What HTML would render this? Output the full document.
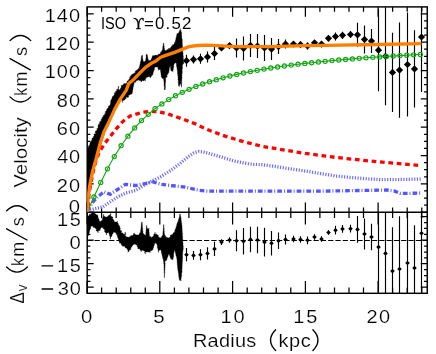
<!DOCTYPE html>
<html><head><meta charset="utf-8"><title>Rotation curve</title>
<style>html,body{margin:0;padding:0;background:#fff}body{width:436px;height:354px;overflow:hidden;font-family:"Liberation Sans",sans-serif}</style>
</head><body>
<svg width="436" height="354" viewBox="0 0 436 354" style="display:block">
<rect width="436" height="354" fill="#fff"/>
<defs><clipPath id="cu"><rect x="87.2" y="6.9" width="340.05" height="205.29999999999998"/></clipPath><clipPath id="cl"><rect x="87.2" y="212.2" width="340.05" height="81.10000000000002"/></clipPath></defs>
<rect x="87.2" y="6.9" width="340.05" height="286.40000000000003" fill="none" stroke="#000" stroke-width="1.45"/>
<line x1="87.2" x2="427.25" y1="212.2" y2="212.2" stroke="#000" stroke-width="1.45"/>
<path d="M87.1,6.9v9.8M87.1,212.2v-9.8M87.1,212.2v12.3M87.1,293.3v-12.3M101.6,6.9v4.8M101.6,212.2v-4.8M101.6,212.2v5.8M101.6,293.3v-5.8M116.2,6.9v4.8M116.2,212.2v-4.8M116.2,212.2v5.8M116.2,293.3v-5.8M130.8,6.9v4.8M130.8,212.2v-4.8M130.8,212.2v5.8M130.8,293.3v-5.8M145.3,6.9v4.8M145.3,212.2v-4.8M145.3,212.2v5.8M145.3,293.3v-5.8M159.8,6.9v9.8M159.8,212.2v-9.8M159.8,212.2v12.3M159.8,293.3v-12.3M174.4,6.9v4.8M174.4,212.2v-4.8M174.4,212.2v5.8M174.4,293.3v-5.8M188.9,6.9v4.8M188.9,212.2v-4.8M188.9,212.2v5.8M188.9,293.3v-5.8M203.5,6.9v4.8M203.5,212.2v-4.8M203.5,212.2v5.8M203.5,293.3v-5.8M218.1,6.9v4.8M218.1,212.2v-4.8M218.1,212.2v5.8M218.1,293.3v-5.8M232.6,6.9v9.8M232.6,212.2v-9.8M232.6,212.2v12.3M232.6,293.3v-12.3M247.2,6.9v4.8M247.2,212.2v-4.8M247.2,212.2v5.8M247.2,293.3v-5.8M261.7,6.9v4.8M261.7,212.2v-4.8M261.7,212.2v5.8M261.7,293.3v-5.8M276.2,6.9v4.8M276.2,212.2v-4.8M276.2,212.2v5.8M276.2,293.3v-5.8M290.8,6.9v4.8M290.8,212.2v-4.8M290.8,212.2v5.8M290.8,293.3v-5.8M305.4,6.9v9.8M305.4,212.2v-9.8M305.4,212.2v12.3M305.4,293.3v-12.3M319.9,6.9v4.8M319.9,212.2v-4.8M319.9,212.2v5.8M319.9,293.3v-5.8M334.5,6.9v4.8M334.5,212.2v-4.8M334.5,212.2v5.8M334.5,293.3v-5.8M349.0,6.9v4.8M349.0,212.2v-4.8M349.0,212.2v5.8M349.0,293.3v-5.8M363.5,6.9v4.8M363.5,212.2v-4.8M363.5,212.2v5.8M363.5,293.3v-5.8M378.1,6.9v9.8M378.1,212.2v-9.8M378.1,212.2v12.3M378.1,293.3v-12.3M392.6,6.9v4.8M392.6,212.2v-4.8M392.6,212.2v5.8M392.6,293.3v-5.8M407.2,6.9v4.8M407.2,212.2v-4.8M407.2,212.2v5.8M407.2,293.3v-5.8M421.8,6.9v4.8M421.8,212.2v-4.8M421.8,212.2v5.8M421.8,293.3v-5.8M87.2,212.2h6.5M427.25,212.2h-6.5M87.2,205.1h3.2M427.25,205.1h-3.2M87.2,198.0h3.2M427.25,198.0h-3.2M87.2,190.9h3.2M427.25,190.9h-3.2M87.2,183.9h6.5M427.25,183.9h-6.5M87.2,176.8h3.2M427.25,176.8h-3.2M87.2,169.7h3.2M427.25,169.7h-3.2M87.2,162.6h3.2M427.25,162.6h-3.2M87.2,155.5h6.5M427.25,155.5h-6.5M87.2,148.4h3.2M427.25,148.4h-3.2M87.2,141.3h3.2M427.25,141.3h-3.2M87.2,134.3h3.2M427.25,134.3h-3.2M87.2,127.2h6.5M427.25,127.2h-6.5M87.2,120.1h3.2M427.25,120.1h-3.2M87.2,113.0h3.2M427.25,113.0h-3.2M87.2,105.9h3.2M427.25,105.9h-3.2M87.2,98.8h6.5M427.25,98.8h-6.5M87.2,91.8h3.2M427.25,91.8h-3.2M87.2,84.7h3.2M427.25,84.7h-3.2M87.2,77.6h3.2M427.25,77.6h-3.2M87.2,70.5h6.5M427.25,70.5h-6.5M87.2,63.4h3.2M427.25,63.4h-3.2M87.2,56.3h3.2M427.25,56.3h-3.2M87.2,49.2h3.2M427.25,49.2h-3.2M87.2,42.2h6.5M427.25,42.2h-6.5M87.2,35.1h3.2M427.25,35.1h-3.2M87.2,28.0h3.2M427.25,28.0h-3.2M87.2,20.9h3.2M427.25,20.9h-3.2M87.2,13.8h6.5M427.25,13.8h-6.5M87.2,287.2h6.5M427.25,287.2h-6.5M87.2,281.3h3.2M427.25,281.3h-3.2M87.2,275.5h3.2M427.25,275.5h-3.2M87.2,269.6h3.2M427.25,269.6h-3.2M87.2,263.7h6.5M427.25,263.7h-6.5M87.2,257.8h3.2M427.25,257.8h-3.2M87.2,252.0h3.2M427.25,252.0h-3.2M87.2,246.1h3.2M427.25,246.1h-3.2M87.2,240.2h6.5M427.25,240.2h-6.5M87.2,234.3h3.2M427.25,234.3h-3.2M87.2,228.4h3.2M427.25,228.4h-3.2M87.2,222.6h3.2M427.25,222.6h-3.2M87.2,216.7h6.5M427.25,216.7h-6.5" stroke="#000" stroke-width="1.25" fill="none"/>
<g clip-path="url(#cu)">
<polygon points="86.6,212.0 86.7,211.3 86.8,210.6 86.9,209.9 86.8,209.2 86.8,208.5 86.8,207.8 86.7,207.1 86.8,206.4 86.8,205.6 86.9,204.9 86.6,204.2 86.7,203.5 86.6,202.8 86.9,202.1 86.8,201.4 86.6,200.7 86.9,200.0 86.9,199.3 86.8,198.6 86.8,197.9 86.7,197.2 86.6,196.5 86.8,195.8 86.6,195.1 86.7,194.4 86.7,193.6 86.6,192.9 86.8,192.2 86.7,191.5 86.9,190.8 86.8,190.1 86.8,189.4 86.8,188.7 86.8,188.0 86.7,187.3 86.7,186.6 86.9,185.9 86.9,185.2 86.9,184.5 86.8,183.8 86.7,183.1 86.7,182.4 86.7,181.6 86.6,180.9 86.8,180.2 86.7,179.5 86.9,178.8 86.7,178.1 86.9,177.4 86.9,176.7 86.6,176.0 86.7,175.3 86.9,174.6 86.8,173.9 86.9,173.2 86.7,172.5 86.6,171.8 86.8,171.1 86.9,170.4 86.7,169.6 86.6,168.9 86.7,168.2 86.9,167.5 86.8,166.8 86.6,166.1 86.7,165.4 86.6,164.7 86.6,164.0 86.9,163.3 86.7,162.6 86.8,161.9 86.7,161.2 86.7,160.5 86.8,159.8 86.6,159.1 86.8,158.4 86.6,157.6 86.7,156.9 86.7,156.2 86.7,155.5 86.9,154.8 86.9,154.1 86.7,153.4 86.9,152.7 86.6,152.0 86.9,151.3 87.2,150.6 87.6,149.9 87.8,149.2 87.9,148.4 88.4,147.8 88.4,147.0 88.6,146.2 88.8,145.5 90.0,145.2 89.8,144.3 90.0,143.6 90.1,142.8 90.4,142.1 91.2,141.7 91.1,140.9 91.8,140.4 91.9,139.6 92.3,138.9 92.0,138.0 93.4,137.9 93.2,136.9 93.7,136.3 94.3,135.8 93.9,134.8 94.2,134.1 95.4,133.9 95.6,133.1 95.0,132.0 95.6,131.5 95.8,130.8 96.8,130.4 97.3,129.8 96.7,128.7 97.9,128.5 98.1,127.8 98.1,126.9 98.2,126.2 98.1,125.3 98.3,124.6 99.7,124.4 99.2,123.4 100.0,122.9 99.5,121.9 100.2,121.4 101.2,121.1 101.3,120.3 101.3,119.5 101.5,118.8 102.5,118.5 102.2,117.4 102.7,116.8 103.5,116.4 103.2,115.4 104.5,115.3 104.6,114.5 104.6,113.7 105.7,113.4 105.3,112.3 105.4,111.6 106.1,111.1 106.7,110.6 106.6,109.7 106.9,109.0 107.4,108.4 108.0,107.9 108.5,107.3 108.3,106.4 108.9,105.9 109.9,105.5 110.3,104.9 110.2,104.1 110.6,103.4 110.8,102.7 110.4,101.7 110.7,101.1 110.9,100.4 111.2,99.7 111.7,99.2 111.9,98.5 112.2,97.9 112.2,97.1 112.6,96.4 113.7,96.0 113.9,95.2 114.5,94.7 114.4,93.7 114.4,92.8 115.9,92.8 115.4,91.5 116.3,91.1 117.0,90.6 116.6,89.4 118.0,89.3 118.1,88.6 118.4,87.9 118.9,87.3 118.3,86.2 118.1,87.0 118.4,87.7 118.4,88.5 118.5,89.3 118.9,90.0 120.2,89.8 120.0,88.9 120.7,88.5 121.1,87.9 121.1,87.1 121.4,86.5 121.0,85.5 121.9,85.5 122.6,85.3 123.2,85.0 123.5,84.0 124.0,83.5 125.1,83.7 126.0,83.7 126.5,83.1 127.0,82.5 127.0,81.3 127.8,80.9 128.6,80.5 128.8,79.8 129.1,79.0 129.9,78.7 129.5,77.5 130.6,77.3 130.2,76.2 131.3,76.0 131.0,74.9 132.0,74.9 132.4,74.1 133.3,74.1 133.8,73.4 134.4,73.0 135.3,72.8 135.1,71.4 135.8,71.1 136.1,70.4 136.9,70.2 137.7,70.0 137.8,69.1 138.3,68.6 139.4,68.7 139.1,67.4 139.5,66.7 139.6,65.9 140.0,65.1 140.0,64.3 140.3,63.5 140.3,62.7 140.5,62.0 140.7,61.3 140.9,60.7 141.1,60.0 141.2,59.3 141.1,58.6 141.3,57.9 141.4,57.2 141.4,56.5 141.5,55.8 142.6,55.2 142.5,55.9 142.5,56.6 142.5,57.4 142.6,58.1 142.6,58.8 142.9,59.5 143.0,60.2 143.0,60.9 143.2,61.6 144.1,61.7 144.8,61.5 145.5,61.0 145.7,60.3 145.8,59.6 145.9,58.9 145.9,58.2 146.1,57.5 146.2,56.8 146.1,56.0 146.1,55.3 146.1,54.6 147.2,54.6 147.4,55.3 147.3,56.1 147.7,56.8 147.7,57.6 147.9,58.4 148.1,59.1 148.4,59.8 148.9,61.0 149.9,60.2 150.7,60.4 151.0,59.8 151.4,59.1 151.5,58.4 152.0,57.9 152.1,57.1 152.3,56.5 152.5,55.8 153.4,55.6 154.4,56.0 155.0,55.0 155.9,55.3 156.7,55.3 157.4,55.2 158.2,55.1 158.6,53.9 160.0,54.3 160.3,53.5 160.4,52.5 161.2,52.2 161.4,51.4 161.8,50.7 162.3,50.2 162.6,49.5 162.7,48.7 162.7,48.0 162.8,47.2 162.9,46.5 163.1,45.8 163.2,45.0 163.3,44.3 163.2,43.5 163.9,43.0 163.7,43.7 163.9,44.5 163.9,45.2 163.9,45.9 164.3,46.6 164.1,47.4 164.2,48.1 164.5,48.8 164.5,49.5 164.7,50.2 165.7,50.6 166.5,50.6 166.9,49.7 167.7,49.6 168.5,49.6 168.7,48.3 170.0,48.5 170.6,48.2 170.7,47.2 171.4,46.8 171.5,45.9 172.5,45.9 172.4,44.7 173.7,44.7 174.0,44.0 174.5,43.4 174.4,42.4 175.6,42.3 175.1,41.0 175.6,40.4 175.8,39.7 175.8,39.0 176.0,38.3 176.1,37.6 176.4,37.0 176.6,36.3 176.6,35.6 176.7,34.9 177.0,34.2 177.0,33.5 178.1,33.5 178.9,33.1 178.8,31.8 179.7,31.4 179.5,30.5 180.7,30.3 180.2,29.2 180.4,28.5 180.3,29.3 180.7,30.0 180.9,30.8 181.0,31.6 181.4,32.3 181.6,33.0 181.6,33.7 181.6,34.4 181.6,35.1 181.6,35.8 181.7,36.5 181.7,37.2 181.9,37.9 181.9,38.6 182.2,39.3 182.3,40.0 182.3,40.7 182.2,41.4 182.3,42.1 182.2,42.9 182.3,43.6 182.4,44.3 182.3,45.0 182.5,45.7 182.6,46.4 182.6,47.2 182.5,47.9 182.5,48.6 182.8,49.3 182.9,50.0 182.7,50.7 182.7,51.5 182.9,52.2 182.9,52.9 183.1,53.6 183.0,54.3 183.1,55.0 183.1,55.7 183.4,56.4 183.1,57.2 183.3,57.9 183.4,58.6 183.3,59.3 183.5,60.0 183.5,60.7 183.5,61.5 183.8,62.2 183.7,62.9 183.9,63.6 182.9,63.8 182.7,64.7 182.3,65.4 182.3,66.2 182.5,66.9 182.4,67.7 182.4,68.4 182.3,69.1 182.1,69.9 182.1,70.6 182.2,71.4 182.2,72.1 182.2,72.9 182.0,73.6 181.8,74.3 182.1,75.1 182.0,75.8 181.8,76.5 182.0,77.3 181.9,78.0 181.9,78.7 181.7,79.4 181.8,80.1 181.7,80.8 181.6,81.6 181.8,82.3 181.5,83.0 181.7,83.7 181.6,84.4 181.6,85.1 181.6,85.9 181.5,86.6 181.6,87.3 181.5,86.5 181.2,85.7 181.0,84.9 180.8,84.1 180.4,83.3 180.1,84.0 179.9,84.6 179.5,85.3 179.3,86.0 179.3,86.7 179.3,85.7 178.3,85.6 178.5,84.9 178.4,84.2 178.4,83.4 178.2,82.8 178.3,82.0 178.3,81.3 178.3,80.6 178.0,79.9 178.0,79.2 178.2,78.5 177.9,77.8 178.1,77.0 178.0,76.3 177.7,75.6 177.7,74.9 177.8,74.2 177.6,73.5 177.5,72.8 177.4,72.1 177.6,71.3 177.3,70.6 177.4,69.9 177.0,69.2 177.0,68.4 177.0,67.7 176.7,67.0 176.6,66.2 176.5,65.5 176.5,64.7 176.4,63.9 176.3,63.1 175.8,62.4 175.4,63.0 174.6,63.4 174.0,64.0 174.0,64.8 173.5,65.3 173.8,66.2 173.7,67.0 173.5,67.8 173.4,68.6 173.3,69.3 173.0,70.1 172.9,70.9 172.9,71.7 172.2,70.7 171.1,71.1 171.0,70.3 170.8,69.6 170.7,68.9 170.7,68.1 170.6,67.3 170.5,66.6 170.0,65.9 169.8,66.6 169.7,67.3 169.3,67.9 169.4,68.6 169.2,69.3 169.2,70.0 169.0,70.7 168.9,71.4 168.8,72.1 168.8,72.8 167.8,73.2 168.2,74.2 167.1,74.5 166.7,75.1 167.2,76.1 167.1,76.9 166.2,77.4 165.5,77.9 165.6,78.8 165.7,79.8 165.6,80.5 165.6,81.2 165.5,81.9 165.6,82.6 165.3,83.3 165.3,84.0 165.3,84.7 165.2,85.4 165.3,86.1 165.4,86.8 165.3,87.5 165.3,88.2 165.1,88.9 165.4,89.6 164.2,89.6 164.4,88.9 164.2,88.2 164.4,87.5 164.3,86.8 164.2,86.1 164.2,85.4 164.0,84.7 164.1,84.0 164.1,83.3 164.0,82.6 164.0,81.9 163.9,81.2 163.8,80.5 163.6,79.8 163.7,78.6 162.5,78.6 162.0,77.7 161.3,76.9 161.3,76.1 161.2,75.4 161.0,74.6 161.0,73.9 161.0,73.1 160.8,72.4 160.6,71.6 160.7,70.9 160.5,70.1 160.2,69.4 159.4,69.4 158.6,69.4 158.4,70.5 158.7,69.5 158.3,68.8 157.8,68.2 158.2,67.1 156.7,67.0 155.5,67.0 154.9,67.6 154.3,68.1 154.4,69.4 153.9,70.0 153.9,70.8 153.5,71.5 153.3,72.2 153.2,72.9 152.9,73.6 152.8,74.4 152.6,75.1 151.9,75.5 151.3,76.0 151.1,76.8 150.5,77.2 150.3,78.0 150.0,76.6 149.1,76.6 148.0,76.9 147.0,77.2 146.1,77.5 146.1,78.4 145.3,78.7 145.2,79.6 145.5,80.7 144.5,79.9 143.9,81.0 143.0,80.5 142.2,80.5 141.7,81.6 140.9,81.8 140.8,80.3 139.6,80.8 139.0,80.0 138.0,80.1 137.3,80.5 136.4,80.8 135.7,81.2 135.7,82.3 134.3,82.0 134.2,83.1 134.0,84.0 133.7,84.7 133.5,85.4 133.5,86.1 133.3,86.8 133.1,87.5 133.0,88.2 133.0,89.0 132.8,89.7 132.5,90.4 132.6,91.1 132.5,91.9 132.3,92.6 132.3,93.3 131.7,93.8 131.1,94.2 130.0,94.2 129.8,95.1 128.8,95.1 128.4,95.8 128.6,97.0 128.0,97.4 126.6,96.9 126.0,97.4 126.1,98.8 124.9,98.4 125.0,99.8 124.1,99.9 123.4,100.4 122.4,100.5 122.5,101.7 122.2,102.5 122.2,101.8 122.3,101.0 122.1,100.3 121.9,99.6 121.6,98.9 120.1,98.9 120.0,99.6 119.9,100.4 120.1,101.3 119.2,101.6 119.0,102.4 119.0,103.1 118.8,103.9 117.9,104.2 118.0,105.1 117.3,105.5 116.7,106.0 116.6,106.7 116.5,107.5 115.8,107.9 116.1,108.9 115.3,109.3 114.6,109.8 114.6,110.6 113.7,111.0 113.4,111.7 113.4,112.5 113.7,113.4 113.5,114.2 112.3,114.4 112.1,115.1 112.0,115.9 112.0,116.7 111.8,117.4 111.0,117.9 110.8,118.6 110.5,119.2 110.2,119.9 110.6,120.9 109.4,121.1 109.7,122.1 109.3,122.7 108.2,122.9 107.9,123.6 107.6,124.3 108.3,125.4 107.9,126.0 107.4,126.6 106.9,127.1 106.3,127.7 106.6,128.6 105.8,129.0 106.0,129.9 105.6,130.6 104.6,130.9 105.1,131.9 104.7,132.5 104.4,133.2 104.3,133.9 104.0,134.6 103.9,135.3 103.6,136.0 103.3,136.7 103.0,137.4 103.0,138.1 102.8,138.8 102.3,139.4 102.1,140.2 101.9,140.8 101.8,141.6 101.5,142.3 101.4,143.0 101.1,143.7 100.8,144.3 100.8,145.0 100.5,145.7 100.2,146.4 100.2,147.1 100.0,147.8 99.8,148.5 99.5,149.1 99.5,149.9 99.3,150.6 99.3,151.3 98.8,151.9 98.9,152.7 98.7,153.4 98.4,154.0 98.3,154.7 98.0,155.4 98.0,156.1 97.6,156.7 97.7,157.5 97.5,158.2 97.2,158.8 96.9,159.5 96.9,160.2 96.6,160.9 96.3,161.5 96.1,162.2 96.1,162.9 95.9,163.6 95.6,164.3 95.3,164.9 95.2,165.6 95.1,166.3 94.8,166.9 94.6,167.6 94.3,168.3 94.1,169.0 93.9,169.6 94.0,170.4 93.7,171.1 93.4,171.8 93.5,172.5 93.3,173.2 93.1,173.9 92.8,174.6 92.7,175.3 92.7,176.1 92.5,176.8 92.4,177.5 92.2,178.2 92.1,178.9 91.9,179.6 91.8,180.3 91.6,181.0 91.3,181.7 91.3,182.5 91.3,183.2 90.9,183.9 90.9,184.6 90.9,185.3 90.6,185.9 90.5,186.6 90.6,187.4 90.6,188.1 90.3,188.7 90.2,189.4 90.1,190.1 89.8,190.8 89.8,191.5 89.7,192.2 89.8,192.9 89.5,193.6 89.4,194.3 89.5,195.0 89.4,195.7 89.4,196.4 89.1,197.1 89.0,197.8 89.2,198.5 89.0,199.2 89.1,200.0 88.9,200.6 88.8,201.4 88.9,202.1 88.9,202.8 88.7,203.5 88.7,204.2 88.6,204.9 88.6,205.6 88.6,206.3 88.3,207.0 88.4,207.7 88.4,208.4 88.3,209.2 88.2,209.9 88.2,210.6 88.1,211.3 88.3,212.0 87.4,211.5" fill="#000" stroke="#000" stroke-width="0.4" stroke-linejoin="round"/>
<path d="M186.5,54.7V66.7M193.5,55.6V63.6M200.5,53.8V63.8M207.5,51.4V62.4M214.5,47.1V60.1M221.5,45.5V50.5M229.5,43.1V48.1M236.5,38.4V57.4M243.5,36.4V60.4M250.5,33.9V56.9M257.5,34.1V58.1M264.5,34.9V60.9M271.5,38.1V60.1M278.5,39.1V54.1M285.5,39.6V48.6M293.5,41.1V47.1M300.5,41.6V47.6M307.5,42.4V49.4M314.5,40.3V45.3M321.5,41.6V46.6M328.5,36.3V40.3M335.5,32.5V40.5M342.5,31.8V38.8M350.5,31.0V38.0M357.5,22.8V46.8M364.5,25.4V53.4M371.5,29.0V53.0M378.5,9.2V91.2M385.5,7.3V105.3M392.5,32.7V112.1M399.5,22.4V117.8M407.5,12.5V116.5M414.5,30.3V107.5M421.5,-18.0V92.0" stroke="#000" stroke-width="1.15" fill="none"/>
<path d="M182.9,60.7L186.5,57.1L190.1,60.7L186.5,64.3ZM189.9,59.6L193.5,56.0L197.1,59.6L193.5,63.2ZM196.9,58.8L200.5,55.2L204.1,58.8L200.5,62.4ZM203.9,56.9L207.5,53.3L211.1,56.9L207.5,60.5ZM210.9,53.6L214.5,50.0L218.1,53.6L214.5,57.2ZM217.9,48.0L221.5,44.4L225.1,48.0L221.5,51.6ZM225.9,45.6L229.5,42.0L233.1,45.6L229.5,49.2ZM232.9,47.9L236.5,44.3L240.1,47.9L236.5,51.5ZM239.9,48.4L243.5,44.8L247.1,48.4L243.5,52.0ZM246.9,45.4L250.5,41.8L254.1,45.4L250.5,49.0ZM253.9,46.1L257.5,42.5L261.1,46.1L257.5,49.7ZM260.9,47.9L264.5,44.3L268.1,47.9L264.5,51.5ZM267.9,49.1L271.5,45.5L275.1,49.1L271.5,52.7ZM274.9,46.6L278.5,43.0L282.1,46.6L278.5,50.2ZM281.9,44.1L285.5,40.5L289.1,44.1L285.5,47.7ZM289.9,44.1L293.5,40.5L297.1,44.1L293.5,47.7ZM296.9,44.6L300.5,41.0L304.1,44.6L300.5,48.2ZM303.9,45.9L307.5,42.3L311.1,45.9L307.5,49.5ZM310.9,42.8L314.5,39.2L318.1,42.8L314.5,46.4ZM317.9,44.1L321.5,40.5L325.1,44.1L321.5,47.7ZM324.9,38.3L328.5,34.7L332.1,38.3L328.5,41.9ZM331.9,36.5L335.5,32.9L339.1,36.5L335.5,40.1ZM338.9,35.3L342.5,31.7L346.1,35.3L342.5,38.9ZM346.9,34.5L350.5,30.9L354.1,34.5L350.5,38.1ZM353.9,34.8L357.5,31.2L361.1,34.8L357.5,38.4ZM360.9,39.4L364.5,35.8L368.1,39.4L364.5,43.0ZM367.9,41.0L371.5,37.4L375.1,41.0L371.5,44.6ZM374.9,50.2L378.5,46.6L382.1,50.2L378.5,53.8ZM381.9,56.3L385.5,52.7L389.1,56.3L385.5,59.9ZM388.9,72.4L392.5,68.8L396.1,72.4L392.5,76.0ZM395.9,70.1L399.5,66.5L403.1,70.1L399.5,73.7ZM403.9,64.5L407.5,60.9L411.1,64.5L407.5,68.1ZM410.9,68.9L414.5,65.3L418.1,68.9L414.5,72.5ZM417.9,37.0L421.5,33.4L425.1,37.0L421.5,40.6Z" fill="#000"/>
<polyline points="87.5,211.0 95.1,208.6 102.7,207.0 110.2,201.9 117.8,196.9 125.4,193.1 135.5,190.5 145.5,184.4 153.1,180.5 160.7,176.7 170.8,170.4 180.9,162.8 188.4,156.5 194.0,152.9 198.9,151.5 203.0,151.9 207.9,153.1 219.8,156.6 234.7,161.1 249.6,164.1 261.6,164.7 273.5,166.2 288.4,168.6 303.3,170.7 320.9,173.6 335.8,176.0 350.7,177.5 365.6,178.7 380.5,179.6 395.4,179.6 410.4,179.3 420.8,179.0" fill="none" stroke="#6a6aff" stroke-width="3.3" stroke-dasharray="1.15 1.55"/>
<polyline points="87.5,211.0 92.0,203.0 97.6,196.9 103.9,191.8 110.2,194.3 117.8,189.3 125.4,184.4 135.5,185.5 145.5,183.5 153.1,181.9 160.7,184.2 170.8,185.5 183.4,186.8 190.0,188.2 198.9,190.3 207.9,191.2 319.7,191.2 365.6,190.4 386.5,190.0 394.0,190.9 399.9,193.3 410.4,193.3 420.8,193.0" fill="none" stroke="#5555ff" stroke-width="3.3" stroke-dasharray="4.7 2 0.9 2.1" stroke-linejoin="round"/>
<polyline points="87.3,212.0 88.9,195.0 90.8,183.2 93.4,170.8 95.3,163.0 98.7,153.5 103.9,144.5 108.2,139.0 116.0,129.2 122.8,121.5 130.4,115.8 143.0,112.2 150.0,111.3 158.2,111.6 168.2,114.0 183.4,119.3 194.7,123.6 207.9,129.8 225.8,136.4 243.7,141.7 261.6,146.2 279.4,149.2 297.3,152.2 319.7,155.4 335.8,157.4 365.6,160.6 395.4,163.3 420.8,165.6" fill="none" stroke="#ff0000" stroke-width="3.3" stroke-dasharray="4.7 3.7" stroke-dashoffset="3" stroke-linejoin="round"/>
<polyline points="87.1,212.0 93.9,197.0 100.7,182.4 107.5,168.8 114.3,156.6 121.1,145.7 127.9,136.2 134.7,127.9 141.5,120.6 148.3,114.3 155.1,108.7 161.9,103.9 168.7,99.6 175.5,95.7 182.3,92.3 189.1,89.3 195.9,86.5 202.7,84.0 209.5,81.7 216.3,79.7 223.1,77.8 229.9,76.0 236.7,74.4 243.5,73.0 250.4,71.6 257.2,70.3 264.0,69.1 270.8,68.0 277.6,67.0 284.4,66.0 291.2,65.1 298.0,64.2 304.8,63.4 311.6,62.7 318.4,62.0 325.2,61.3 332.0,60.6 338.8,60.0 345.6,59.4 352.4,58.9 359.2,58.3 366.0,57.8 372.8,57.3 379.6,56.9 386.4,56.4 393.2,56.0 400.0,55.6 406.8,55.2 413.6,54.8 420.4,54.5" fill="none" stroke="#12a512" stroke-width="1.1"/>
<circle cx="93.9" cy="197.0" r="2.1" fill="none" stroke="#12a512" stroke-width="1.15"/>
<circle cx="100.7" cy="182.4" r="2.1" fill="none" stroke="#12a512" stroke-width="1.15"/>
<circle cx="107.5" cy="168.8" r="2.1" fill="none" stroke="#12a512" stroke-width="1.15"/>
<circle cx="114.3" cy="156.6" r="2.1" fill="none" stroke="#12a512" stroke-width="1.15"/>
<circle cx="121.1" cy="145.7" r="2.1" fill="none" stroke="#12a512" stroke-width="1.15"/>
<circle cx="127.9" cy="136.2" r="2.1" fill="none" stroke="#12a512" stroke-width="1.15"/>
<circle cx="134.7" cy="127.9" r="2.1" fill="none" stroke="#12a512" stroke-width="1.15"/>
<circle cx="141.5" cy="120.6" r="2.1" fill="none" stroke="#12a512" stroke-width="1.15"/>
<circle cx="148.3" cy="114.3" r="2.1" fill="none" stroke="#12a512" stroke-width="1.15"/>
<circle cx="155.1" cy="108.7" r="2.1" fill="none" stroke="#12a512" stroke-width="1.15"/>
<circle cx="161.9" cy="103.9" r="2.1" fill="none" stroke="#12a512" stroke-width="1.15"/>
<circle cx="168.7" cy="99.6" r="2.1" fill="none" stroke="#12a512" stroke-width="1.15"/>
<circle cx="175.5" cy="95.7" r="2.1" fill="none" stroke="#12a512" stroke-width="1.15"/>
<circle cx="182.3" cy="92.3" r="2.1" fill="none" stroke="#12a512" stroke-width="1.15"/>
<circle cx="189.1" cy="89.3" r="2.1" fill="none" stroke="#12a512" stroke-width="1.15"/>
<circle cx="195.9" cy="86.5" r="2.1" fill="none" stroke="#12a512" stroke-width="1.15"/>
<circle cx="202.7" cy="84.0" r="2.1" fill="none" stroke="#12a512" stroke-width="1.15"/>
<circle cx="209.5" cy="81.7" r="2.1" fill="none" stroke="#12a512" stroke-width="1.15"/>
<circle cx="216.3" cy="79.7" r="2.1" fill="none" stroke="#12a512" stroke-width="1.15"/>
<circle cx="223.1" cy="77.8" r="2.1" fill="none" stroke="#12a512" stroke-width="1.15"/>
<circle cx="229.9" cy="76.0" r="2.1" fill="none" stroke="#12a512" stroke-width="1.15"/>
<circle cx="236.7" cy="74.4" r="2.1" fill="none" stroke="#12a512" stroke-width="1.15"/>
<circle cx="243.5" cy="73.0" r="2.1" fill="none" stroke="#12a512" stroke-width="1.15"/>
<circle cx="250.4" cy="71.6" r="2.1" fill="none" stroke="#12a512" stroke-width="1.15"/>
<circle cx="257.2" cy="70.3" r="2.1" fill="none" stroke="#12a512" stroke-width="1.15"/>
<circle cx="264.0" cy="69.1" r="2.1" fill="none" stroke="#12a512" stroke-width="1.15"/>
<circle cx="270.8" cy="68.0" r="2.1" fill="none" stroke="#12a512" stroke-width="1.15"/>
<circle cx="277.6" cy="67.0" r="2.1" fill="none" stroke="#12a512" stroke-width="1.15"/>
<circle cx="284.4" cy="66.0" r="2.1" fill="none" stroke="#12a512" stroke-width="1.15"/>
<circle cx="291.2" cy="65.1" r="2.1" fill="none" stroke="#12a512" stroke-width="1.15"/>
<circle cx="298.0" cy="64.2" r="2.1" fill="none" stroke="#12a512" stroke-width="1.15"/>
<circle cx="304.8" cy="63.4" r="2.1" fill="none" stroke="#12a512" stroke-width="1.15"/>
<circle cx="311.6" cy="62.7" r="2.1" fill="none" stroke="#12a512" stroke-width="1.15"/>
<circle cx="318.4" cy="62.0" r="2.1" fill="none" stroke="#12a512" stroke-width="1.15"/>
<circle cx="325.2" cy="61.3" r="2.1" fill="none" stroke="#12a512" stroke-width="1.15"/>
<circle cx="332.0" cy="60.6" r="2.1" fill="none" stroke="#12a512" stroke-width="1.15"/>
<circle cx="338.8" cy="60.0" r="2.1" fill="none" stroke="#12a512" stroke-width="1.15"/>
<circle cx="345.6" cy="59.4" r="2.1" fill="none" stroke="#12a512" stroke-width="1.15"/>
<circle cx="352.4" cy="58.9" r="2.1" fill="none" stroke="#12a512" stroke-width="1.15"/>
<circle cx="359.2" cy="58.3" r="2.1" fill="none" stroke="#12a512" stroke-width="1.15"/>
<circle cx="366.0" cy="57.8" r="2.1" fill="none" stroke="#12a512" stroke-width="1.15"/>
<circle cx="372.8" cy="57.3" r="2.1" fill="none" stroke="#12a512" stroke-width="1.15"/>
<circle cx="379.6" cy="56.9" r="2.1" fill="none" stroke="#12a512" stroke-width="1.15"/>
<circle cx="386.4" cy="56.4" r="2.1" fill="none" stroke="#12a512" stroke-width="1.15"/>
<circle cx="393.2" cy="56.0" r="2.1" fill="none" stroke="#12a512" stroke-width="1.15"/>
<circle cx="400.0" cy="55.6" r="2.1" fill="none" stroke="#12a512" stroke-width="1.15"/>
<circle cx="406.8" cy="55.2" r="2.1" fill="none" stroke="#12a512" stroke-width="1.15"/>
<circle cx="413.6" cy="54.8" r="2.1" fill="none" stroke="#12a512" stroke-width="1.15"/>
<circle cx="420.4" cy="54.5" r="2.1" fill="none" stroke="#12a512" stroke-width="1.15"/>
<polyline points="87.1,212.0 88.3,195.0 90.1,183.2 92.8,170.4 96.5,157.5 100.2,143.0 103.9,131.9 109.4,120.9 114.9,108.9 120.4,98.9 126.2,90.3 128.7,83.6 132.8,80.3 139.7,73.1 145.5,67.4 151.3,63.3 155.0,61.6 160.7,57.2 165.0,55.6 174.7,52.4 182.7,49.1 189.1,46.6 197.2,45.5 206.8,45.2 218.1,45.7 229.4,46.4 235.0,46.7 245.5,46.7 270.7,46.6 304.7,45.6 326.0,45.3 378.0,44.5 421.4,43.7" fill="none" stroke="#ff8000" stroke-width="3.3" stroke-linejoin="round"/>
</g>
<g clip-path="url(#cl)">
<line x1="87.2" x2="427.25" y1="240.5" y2="240.5" stroke="#000" stroke-width="1.1" stroke-dasharray="5.3 2"/>
<polygon points="86.6,216.3 87.5,216.0 88.5,215.9 89.1,215.4 89.2,214.2 90.4,214.8 90.7,213.7 91.4,213.4 91.9,212.8 92.8,213.0 93.8,213.1 94.7,212.8 94.8,214.1 96.0,214.0 96.4,214.9 97.5,214.9 97.7,215.6 97.9,216.3 98.0,217.0 98.1,217.8 98.4,218.5 98.8,219.1 99.0,219.8 99.2,220.5 99.5,221.2 100.9,221.4 101.4,220.8 101.9,220.3 102.5,219.7 102.3,218.4 102.8,217.8 103.1,217.1 103.2,216.4 103.3,215.6 103.7,215.0 103.7,214.2 103.6,215.1 103.8,215.9 104.4,216.3 104.9,216.8 105.8,217.0 106.7,217.1 107.4,216.8 108.0,216.3 108.5,215.6 109.1,215.2 110.3,215.3 110.8,214.8 110.6,213.5 109.9,214.9 110.7,215.4 111.2,216.0 111.4,216.8 112.7,217.0 112.8,217.8 112.5,218.7 113.1,219.3 113.7,219.9 114.0,220.6 113.9,221.5 114.8,221.9 115.8,222.0 116.7,222.0 117.5,221.2 117.1,222.2 117.6,222.8 118.2,223.3 118.1,224.2 118.7,224.8 119.0,225.4 119.6,226.0 119.7,226.8 119.8,227.6 120.4,228.1 120.0,229.1 120.0,230.0 120.9,230.4 121.7,230.9 121.3,232.1 121.5,232.9 122.9,233.0 123.2,233.7 123.8,234.3 125.1,234.2 125.6,233.5 125.2,232.2 124.7,233.2 125.6,233.7 125.6,234.5 125.3,235.4 125.6,236.1 125.9,236.8 127.2,237.1 128.0,237.1 129.0,237.6 129.5,236.7 130.3,236.8 130.7,235.7 131.4,235.4 132.7,235.8 132.9,234.9 133.6,234.6 133.8,233.6 134.2,232.9 134.5,234.0 135.3,234.4 136.0,234.8 136.8,235.0 137.8,235.0 139.0,235.0 139.1,234.1 139.5,233.5 139.8,232.8 140.8,232.6 140.5,231.5 140.6,230.8 140.7,230.1 140.8,229.4 141.0,228.7 141.1,228.0 141.1,227.3 141.1,226.6 141.3,225.9 141.3,225.2 141.3,224.5 141.3,223.8 141.7,223.1 141.5,222.4 142.2,222.0 142.2,222.7 142.2,223.5 142.3,224.2 142.3,224.9 142.5,225.7 142.4,226.4 142.5,227.1 142.4,227.9 142.8,228.6 142.7,229.3 142.7,230.1 142.6,230.8 143.0,231.5 142.8,232.5 143.3,233.2 143.4,234.0 144.3,234.5 145.0,235.0 145.4,235.7 145.6,235.0 145.9,234.2 145.9,233.5 145.8,232.7 146.0,232.0 146.1,231.3 146.0,230.5 146.2,229.8 146.2,229.0 146.3,228.3 146.4,227.5 146.4,226.8 146.5,226.1 146.5,225.3 146.7,226.0 146.8,226.7 147.1,227.4 147.1,228.2 147.5,228.8 148.5,229.1 148.9,228.1 149.0,228.9 148.8,229.6 149.0,230.4 149.0,231.2 149.0,231.9 149.2,232.7 149.2,233.4 149.2,234.2 149.4,234.9 149.5,235.7 149.7,237.1 150.8,236.5 151.1,237.7 152.3,237.1 152.9,236.6 153.3,236.1 153.8,235.5 153.7,234.7 154.2,234.1 154.8,233.7 155.2,233.1 155.1,232.2 154.9,233.6 155.3,234.2 156.7,233.9 156.8,234.9 157.9,235.0 158.3,235.7 158.2,236.8 159.2,237.0 159.2,238.0 160.6,237.8 161.6,237.7 161.6,236.8 161.9,236.1 162.5,235.8 162.7,235.0 163.0,234.3 162.8,233.6 163.0,232.9 163.0,232.2 163.1,231.4 163.3,230.7 163.1,230.0 163.3,229.3 163.4,228.6 163.5,227.9 163.4,227.2 163.6,226.4 163.5,225.7 163.4,225.0 164.0,224.6 163.9,225.4 163.9,226.1 163.9,226.8 163.9,227.6 164.2,228.3 164.2,229.1 164.1,229.8 164.1,230.6 164.2,231.3 164.3,232.0 164.2,232.8 164.4,233.5 164.5,234.3 164.6,235.0 165.1,235.6 165.7,236.1 165.7,237.4 166.8,237.3 167.5,237.8 168.7,237.9 169.4,237.5 170.1,237.0 170.5,236.3 170.3,235.0 171.3,234.9 172.2,234.6 173.0,234.3 173.1,232.9 174.3,232.7 174.3,231.7 175.2,231.4 174.9,230.3 175.2,229.5 175.5,228.8 176.0,228.2 176.0,227.4 176.2,226.7 176.6,226.1 176.7,225.3 176.8,224.6 177.0,223.9 177.2,223.2 177.5,222.5 177.8,221.9 178.2,221.2 178.2,220.5 178.6,219.9 178.6,219.1 179.0,218.5 179.1,217.7 179.4,217.1 179.5,216.4 179.6,215.6 179.7,214.9 179.8,214.2 180.4,214.2 180.4,214.9 180.3,215.6 180.6,216.3 180.8,217.0 180.9,217.7 181.1,218.4 181.0,219.2 181.2,219.9 181.2,220.7 181.5,221.4 181.3,222.2 181.6,223.0 181.8,223.7 181.7,224.5 181.9,225.3 182.1,226.0 181.9,226.7 182.0,227.5 182.1,228.2 182.0,228.9 182.2,229.7 182.1,230.4 182.2,231.1 182.3,231.9 182.2,232.6 182.5,233.3 182.3,234.1 182.6,234.8 182.4,235.5 182.6,236.2 182.7,237.0 182.6,237.7 182.5,238.5 182.8,239.2 182.9,239.9 182.8,240.6 182.8,241.3 182.9,242.0 182.9,242.7 183.1,243.4 183.0,244.1 182.9,244.8 183.1,245.5 183.2,246.2 183.3,246.9 183.1,247.6 183.4,248.3 183.2,249.0 183.0,249.7 182.9,250.4 183.1,251.1 182.7,251.8 182.6,252.5 182.6,253.2 182.8,253.9 182.5,254.6 182.5,255.3 182.5,256.1 182.5,256.8 182.5,257.5 182.5,258.2 182.6,258.9 182.3,259.7 182.4,260.4 182.5,261.1 182.3,261.8 182.3,262.5 182.3,263.3 182.2,264.0 182.1,264.7 182.2,265.4 182.1,266.1 182.1,266.9 182.1,267.6 182.1,268.3 181.9,269.0 182.0,269.7 181.8,270.4 182.0,271.2 182.1,271.9 181.8,272.6 181.6,273.4 181.6,274.1 181.6,274.9 181.7,275.6 181.4,276.4 181.4,277.1 181.2,277.9 181.1,278.6 180.9,279.4 181.0,280.1 181.1,280.9 180.4,280.1 179.3,280.2 179.4,279.5 179.3,278.8 179.0,278.1 179.0,277.4 178.8,276.7 178.8,276.0 178.7,275.3 178.8,274.6 178.5,274.0 178.6,273.2 178.3,272.6 178.2,271.9 178.3,271.1 177.9,270.5 177.9,269.8 177.8,269.0 177.7,268.3 177.6,267.6 177.6,266.8 177.5,266.1 177.4,265.3 177.3,264.6 177.4,263.9 177.2,263.1 177.1,262.4 177.2,261.7 177.2,260.9 177.0,260.2 177.0,259.4 176.9,258.7 176.6,258.0 176.7,257.2 176.5,256.5 176.1,255.9 175.9,255.2 175.9,254.5 175.7,253.8 175.5,253.1 175.4,252.4 175.1,251.8 175.1,251.0 174.8,250.4 174.5,249.7 174.3,250.4 174.2,251.2 174.1,251.9 173.9,252.6 173.8,253.4 173.6,254.1 173.7,254.9 173.5,255.6 173.6,256.4 173.3,257.1 173.3,257.9 173.0,258.6 172.9,259.3 173.1,260.1 172.5,259.6 172.0,258.6 171.0,259.4 170.8,258.7 170.6,258.0 170.2,257.3 170.1,256.6 169.7,256.0 169.6,255.2 169.3,254.5 168.9,253.9 168.5,254.5 168.2,255.2 168.1,255.9 167.8,256.6 167.5,257.3 167.4,258.0 166.9,258.6 166.9,259.4 166.5,260.0 166.2,260.7 165.1,261.1 164.8,261.7 164.9,262.6 165.2,263.5 165.0,264.2 165.1,265.0 165.1,265.7 164.9,266.4 165.0,267.2 165.0,267.9 164.7,268.6 165.0,269.4 164.8,270.1 164.7,270.8 164.7,271.5 164.8,272.3 164.6,273.0 164.6,273.7 164.6,274.5 164.5,275.2 164.5,275.9 164.5,276.7 164.7,277.4 164.2,277.4 164.4,276.7 164.3,275.9 164.3,275.2 164.4,274.5 164.3,273.7 164.2,273.0 164.0,272.3 164.2,271.5 164.1,270.8 164.1,270.1 164.0,269.3 164.1,268.6 164.0,267.9 164.1,267.1 164.0,266.4 164.0,265.7 164.0,265.0 163.9,264.2 163.7,263.5 163.7,262.7 163.7,261.9 163.5,261.1 163.4,260.3 163.3,259.5 163.0,258.8 162.7,258.0 162.7,257.3 162.4,256.6 162.3,255.9 162.1,255.2 162.0,254.5 161.9,253.8 161.5,253.2 161.4,252.4 161.4,251.7 161.1,251.0 161.0,250.3 160.6,249.7 160.0,250.1 159.0,250.2 158.9,251.0 158.3,251.5 158.5,252.5 158.4,251.8 158.3,251.1 158.3,250.3 158.1,249.6 157.9,249.0 157.7,248.3 157.4,247.6 157.2,246.9 157.7,245.8 157.0,245.3 157.0,244.4 156.5,243.8 155.9,243.2 155.1,242.8 154.6,243.4 154.6,244.2 154.2,244.8 154.2,245.6 153.7,246.2 153.7,246.9 153.5,247.6 153.1,248.2 153.1,249.0 153.0,249.7 152.0,249.8 151.8,250.8 150.6,250.6 150.2,251.4 150.2,252.5 149.4,252.0 148.4,251.9 147.5,251.8 146.6,251.9 145.6,252.0 145.1,252.6 145.4,253.9 145.5,252.9 144.6,252.5 145.1,251.2 143.9,251.0 143.3,250.4 142.1,250.1 141.5,250.8 141.2,251.8 141.5,250.3 140.2,250.5 140.2,249.3 139.6,248.8 138.4,248.9 137.8,248.3 138.0,247.3 137.3,246.9 137.3,246.0 137.2,245.3 136.5,244.9 135.9,244.4 135.0,244.2 133.9,243.9 133.4,244.7 132.8,245.4 131.9,245.8 132.0,246.7 130.9,247.1 131.3,248.2 130.4,248.6 130.7,249.6 130.0,250.0 129.1,250.2 129.0,251.2 128.4,251.7 127.9,252.3 128.2,251.2 127.9,250.5 127.7,249.7 127.1,249.1 127.1,248.2 125.7,248.1 125.2,247.5 124.9,246.4 124.2,246.1 123.2,246.2 122.4,246.1 122.0,245.4 121.5,244.8 121.2,243.9 120.9,243.1 119.6,243.3 119.6,242.5 119.3,241.9 118.9,241.2 118.9,240.5 118.6,239.8 118.3,239.1 118.2,238.4 117.8,237.8 117.5,237.1 117.5,236.2 117.2,235.4 117.2,234.5 116.1,234.2 116.1,233.3 115.5,232.8 114.8,232.2 113.7,232.2 113.0,232.7 113.1,233.7 112.2,233.9 112.0,234.7 112.0,235.7 111.5,236.3 111.1,237.0 110.5,237.5 109.9,238.1 110.6,239.2 110.6,238.4 110.2,237.8 110.2,237.0 109.9,236.3 109.7,235.7 109.4,235.0 109.3,234.3 109.1,233.5 108.8,232.9 108.5,232.2 107.9,232.8 106.6,232.9 106.5,234.0 106.5,235.0 106.2,234.3 106.7,233.0 105.4,232.8 105.2,232.0 104.4,231.5 104.8,230.4 104.5,229.7 104.4,228.9 103.2,228.7 103.3,227.7 102.3,227.4 100.9,227.4 100.8,228.4 100.0,228.9 100.2,230.2 99.2,230.5 98.5,231.0 97.7,231.5 98.2,232.9 98.0,232.1 97.8,231.2 96.9,231.1 96.1,230.9 96.5,229.6 95.9,229.1 95.6,228.5 95.1,227.9 94.4,227.5 93.3,227.4 93.3,225.9 92.0,226.3 91.2,226.0 90.8,226.6 90.8,227.4 90.4,228.0 90.2,228.7 90.1,229.4 89.7,230.1 89.7,230.8 89.5,231.5 89.3,232.2 89.2,232.9 88.8,233.5 88.7,234.3 88.6,235.0 88.3,235.7 87.8,236.3 87.8,237.1 87.5,237.7 87.4,238.5 87.3,239.2 87.1,239.9 87.3,239.2 87.1,238.5 87.1,237.8 87.2,237.0 87.2,236.3 87.0,235.6 87.3,234.9 87.0,234.2 87.0,233.5 87.1,232.7 87.2,232.0 87.2,231.3 87.1,230.6 87.0,229.9 87.2,229.2 86.9,228.5 87.2,227.7 86.8,227.0 86.9,226.3 87.0,225.6 87.0,224.9 87.0,224.2 86.8,223.4 87.0,222.7 86.9,222.0 86.8,221.3 86.7,220.6 87.0,219.9 86.7,219.2 86.7,218.4 86.7,217.7 86.9,217.0" fill="#000" stroke="#000" stroke-width="0.4" stroke-linejoin="round"/>
<path d="M186.5,248.1V261.3M193.5,251.0V259.8M200.5,249.2V260.2M207.5,247.3V259.5M214.5,241.7V256.1M221.5,239.3V244.9M229.5,237.2V242.8M236.5,230.3V251.3M243.5,228.0V254.6M250.5,226.8V252.2M257.5,226.7V253.3M264.5,227.7V256.5M271.5,231.1V255.5M278.5,232.5V249.1M285.5,234.5V244.5M293.5,235.7V242.3M300.5,236.2V242.8M307.5,236.4V244.2M314.5,234.2V239.8M321.5,236.2V241.8M328.5,230.3V234.7M335.5,225.8V234.6M342.5,225.0V232.8M350.5,224.8V232.6M357.5,216.1V242.7M364.5,218.5V249.5M371.5,223.7V250.3M378.5,201.8V292.4M385.5,199.2V307.6M392.5,227.2V315.0M399.5,216.2V321.8M407.5,205.5V320.5M414.5,225.3V310.7M421.5,172.4V294.0" stroke="#000" stroke-width="1.15" fill="none"/>
<path d="M184.2,254.7L186.5,252.4L188.8,254.7L186.5,257.0ZM191.2,255.4L193.5,253.1L195.8,255.4L193.5,257.7ZM198.2,254.7L200.5,252.4L202.8,254.7L200.5,257.0ZM205.2,253.4L207.5,251.1L209.8,253.4L207.5,255.7ZM212.2,248.9L214.5,246.6L216.8,248.9L214.5,251.2ZM219.2,242.1L221.5,239.8L223.8,242.1L221.5,244.4ZM227.2,240.0L229.5,237.7L231.8,240.0L229.5,242.3ZM234.2,240.8L236.5,238.5L238.8,240.8L236.5,243.1ZM241.2,241.3L243.5,239.0L245.8,241.3L243.5,243.6ZM248.2,239.5L250.5,237.2L252.8,239.5L250.5,241.8ZM255.2,240.0L257.5,237.7L259.8,240.0L257.5,242.3ZM262.2,242.1L264.5,239.8L266.8,242.1L264.5,244.4ZM269.2,243.3L271.5,241.0L273.8,243.3L271.5,245.6ZM276.2,240.8L278.5,238.5L280.8,240.8L278.5,243.1ZM283.2,239.5L285.5,237.2L287.8,239.5L285.5,241.8ZM291.2,239.0L293.5,236.7L295.8,239.0L293.5,241.3ZM298.2,239.5L300.5,237.2L302.8,239.5L300.5,241.8ZM305.2,240.3L307.5,238.0L309.8,240.3L307.5,242.6ZM312.2,237.0L314.5,234.7L316.8,237.0L314.5,239.3ZM319.2,239.0L321.5,236.7L323.8,239.0L321.5,241.3ZM326.2,232.5L328.5,230.2L330.8,232.5L328.5,234.8ZM333.2,230.2L335.5,227.9L337.8,230.2L335.5,232.5ZM340.2,228.9L342.5,226.6L344.8,228.9L342.5,231.2ZM348.2,228.7L350.5,226.4L352.8,228.7L350.5,231.0ZM355.2,229.4L357.5,227.1L359.8,229.4L357.5,231.7ZM362.2,234.0L364.5,231.7L366.8,234.0L364.5,236.3ZM369.2,237.0L371.5,234.7L373.8,237.0L371.5,239.3ZM376.2,247.1L378.5,244.8L380.8,247.1L378.5,249.4ZM383.2,253.4L385.5,251.1L387.8,253.4L385.5,255.7ZM390.2,271.1L392.5,268.8L394.8,271.1L392.5,273.4ZM397.2,269.0L399.5,266.7L401.8,269.0L399.5,271.3ZM405.2,263.0L407.5,260.7L409.8,263.0L407.5,265.3ZM412.2,268.0L414.5,265.7L416.8,268.0L414.5,270.3ZM419.2,233.2L421.5,230.9L423.8,233.2L421.5,235.5Z" fill="#000"/>
</g>
<g opacity="0.999" fill="#000" stroke="#fff" stroke-width="0.18">
<text transform="translate(44.78,21.70) scale(1.0800,1)" font-family="Liberation Sans, sans-serif" font-size="18.5" letter-spacing="0.910" >140</text>
<text transform="translate(44.78,49.55) scale(1.0800,1)" font-family="Liberation Sans, sans-serif" font-size="18.5" letter-spacing="0.910" >120</text>
<text transform="translate(44.78,78.35) scale(1.0800,1)" font-family="Liberation Sans, sans-serif" font-size="18.5" letter-spacing="0.910" >100</text>
<text transform="translate(56.83,106.65) scale(1.0800,1)" font-family="Liberation Sans, sans-serif" font-size="18.5" letter-spacing="0.949" >80</text>
<text transform="translate(56.69,135.05) scale(1.0800,1)" font-family="Liberation Sans, sans-serif" font-size="18.5" letter-spacing="1.084" >60</text>
<text transform="translate(57.24,163.15) scale(1.0800,1)" font-family="Liberation Sans, sans-serif" font-size="18.5" letter-spacing="0.570" >40</text>
<text transform="translate(56.70,192.05) scale(1.0800,1)" font-family="Liberation Sans, sans-serif" font-size="18.5" letter-spacing="1.075" >20</text>
<text transform="translate(68.81,212.85) scale(1.0969,1)" font-family="Liberation Sans, sans-serif" font-size="18.5" letter-spacing="0.000" >0</text>
<text transform="translate(56.88,225.95) scale(1.0800,1)" font-family="Liberation Sans, sans-serif" font-size="18.5" letter-spacing="1.608" >15</text>
<text transform="translate(69.51,248.65) scale(1.0969,1)" font-family="Liberation Sans, sans-serif" font-size="18.5" letter-spacing="0.000" >0</text>
<text transform="translate(56.88,271.95) scale(1.0800,1)" font-family="Liberation Sans, sans-serif" font-size="18.5" letter-spacing="1.608" >15</text>
<path d="M42.1,265.9H52.6" stroke="#000" stroke-width="1.35" stroke-linecap="round" fill="none"/>
<text transform="translate(57.64,295.05) scale(1.0800,1)" font-family="Liberation Sans, sans-serif" font-size="18.5" letter-spacing="0.850" >30</text>
<path d="M42.1,289.0H52.6" stroke="#000" stroke-width="1.35" stroke-linecap="round" fill="none"/>
<text transform="translate(81.06,322.60) scale(1.0969,1)" font-family="Liberation Sans, sans-serif" font-size="18.5" letter-spacing="0.000" >0</text>
<text transform="translate(153.33,322.60) scale(1.1059,1)" font-family="Liberation Sans, sans-serif" font-size="18.5" letter-spacing="0.000" >5</text>
<text transform="translate(220.48,322.60) scale(1.0800,1)" font-family="Liberation Sans, sans-serif" font-size="18.5" letter-spacing="1.739" >10</text>
<text transform="translate(293.28,322.60) scale(1.0800,1)" font-family="Liberation Sans, sans-serif" font-size="18.5" letter-spacing="1.794" >15</text>
<text transform="translate(366.60,322.60) scale(1.0800,1)" font-family="Liberation Sans, sans-serif" font-size="18.5" letter-spacing="1.261" >20</text>
<text transform="translate(192.96,346.70) scale(1.0800,1)" font-family="Liberation Sans, sans-serif" font-size="18.5" letter-spacing="0.216" >Radius</text>
<text transform="translate(278.45,346.70) scale(1.0800,1)" font-family="Liberation Sans, sans-serif" font-size="18.5" letter-spacing="0.501" >kpc</text>
<path transform="translate(0,346.7)" d="M275.62,-17.00Q265.45,-6.60 275.62,3.80M312.88,-17.00Q323.05,-6.60 312.88,3.80" stroke="#000" stroke-width="1.35" stroke-linecap="round" fill="none"/>
<text transform="translate(27.00,187.39) rotate(-90) scale(1.0800,1)" font-family="Liberation Sans, sans-serif" font-size="18.5" letter-spacing="0.181" >Velocity</text>
<text transform="translate(27.00,95.62) rotate(-90) scale(0.8219,1)" font-family="Liberation Sans, sans-serif" font-size="18.5" letter-spacing="0.000" >k</text>
<text transform="translate(27.00,86.59) rotate(-90) scale(0.9720,1)" font-family="Liberation Sans, sans-serif" font-size="18.5" letter-spacing="0.000" >m</text>
<text transform="translate(27.00,56.11) rotate(-90) scale(0.9917,1)" font-family="Liberation Sans, sans-serif" font-size="18.5" letter-spacing="0.000" >s</text>
<path transform="translate(27.0,102.6) rotate(-90)" d="M5.73,-17.00Q-4.45,-6.60 5.73,3.80M61.97,-17.00Q72.15,-6.60 61.97,3.80M32.8,3.4L44.0,-17.0" stroke="#000" stroke-width="1.35" stroke-linecap="round" fill="none"/>
<text transform="translate(23.60,303.50) rotate(-90) scale(0.8605,1)" font-family="Liberation Sans, sans-serif" font-size="19.5" letter-spacing="0.000" >Δ</text>
<text transform="translate(27.20,291.25) rotate(-90) scale(0.9559,1)" font-family="Liberation Sans, sans-serif" font-size="14" letter-spacing="0.000" >v</text>
<text transform="translate(23.60,265.82) rotate(-90) scale(0.8219,1)" font-family="Liberation Sans, sans-serif" font-size="18.5" letter-spacing="0.000" >k</text>
<text transform="translate(23.60,256.79) rotate(-90) scale(0.9720,1)" font-family="Liberation Sans, sans-serif" font-size="18.5" letter-spacing="0.000" >m</text>
<text transform="translate(23.60,226.31) rotate(-90) scale(0.9917,1)" font-family="Liberation Sans, sans-serif" font-size="18.5" letter-spacing="0.000" >s</text>
<path transform="translate(23.6,272.8) rotate(-90)" d="M5.73,-17.00Q-4.45,-6.60 5.73,3.80M61.97,-17.00Q72.15,-6.60 61.97,3.80M32.8,3.4L44.0,-17.0" stroke="#000" stroke-width="1.35" stroke-linecap="round" fill="none"/>
<text transform="translate(101.06,28.50) scale(0.9317,1)" font-family="Liberation Sans, sans-serif" font-size="15.6" letter-spacing="0.000" stroke="none">ISO</text>
<text transform="translate(133.51,28.60) scale(0.8527,1)" font-family="Liberation Serif, serif" font-size="16" letter-spacing="0.000" stroke="#000" stroke-width="0.5">ϒ</text>
<text transform="translate(144.08,28.50) scale(1.0800,1)" font-family="Liberation Sans, sans-serif" font-size="15.6" letter-spacing="1.074" stroke="none">=0.52</text>
</g>
</svg>
</body></html>
